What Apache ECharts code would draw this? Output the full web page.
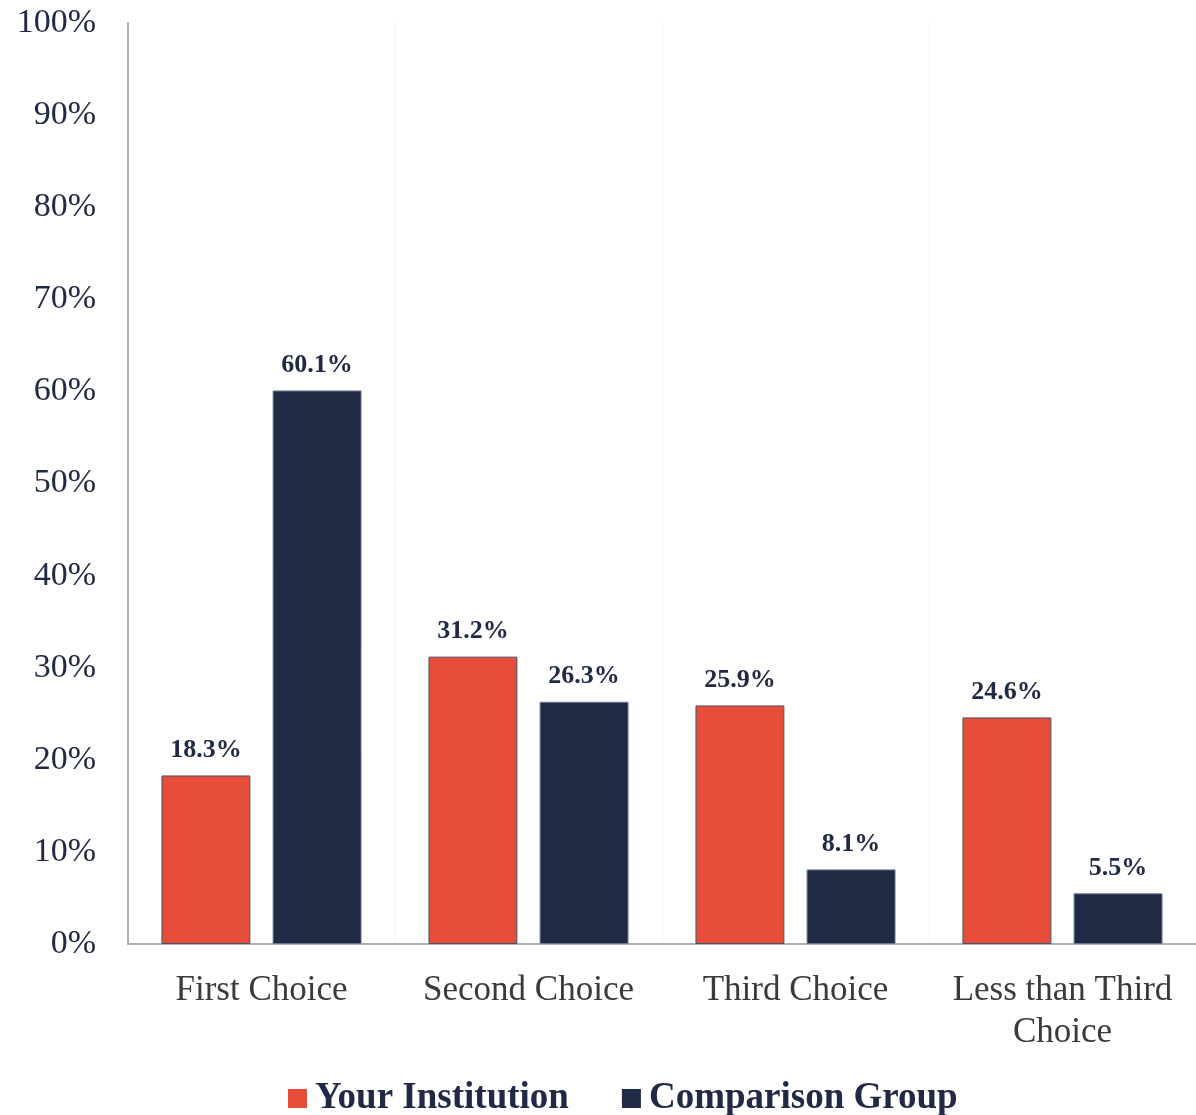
<!DOCTYPE html>
<html><head><meta charset="utf-8">
<script src="https://cdn.jsdelivr.net/npm/echarts@6/dist/echarts.min.js"></script>
<style>html,body{margin:0;padding:0;background:#fff}#c{width:1196px;height:1115px}</style>
</head><body><div id="c"></div>
<script>
const categories = ['First Choice', 'Second Choice', 'Third Choice', 'Less than Third\nChoice'];
const yourInstitution = [18.3, 31.2, 25.9, 24.6];
const comparisonGroup = [60.1, 26.3, 8.1, 5.5];
const seriesNames = ['Your Institution', 'Comparison Group'];
const serif = '"Liberation Serif", "DejaVu Serif", serif';
const navy = '#212a45';
const red = '#e64e39';
const chart = echarts.init(document.getElementById('c'));
const labelCfg = {show: true, position: 'top', distance: 12, color: navy, fontFamily: serif, fontWeight: 'bold', fontSize: 26, formatter: p => p.value.toFixed(1) + '%'};
chart.setOption({
  animation: false,
  grid: {left: 128, right: 0, top: 23, bottom: 171},
  legend: {bottom: -7, left: 283, itemWidth: 19, itemHeight: 19, itemGap: 53,
    icon: 'rect',
    itemStyle: {borderWidth: 0},
    textStyle: {fontFamily: serif, fontWeight: 'bold', fontSize: 37, color: navy, padding: [0, 0, 0, 3]},
    data: seriesNames},
  xAxis: {type: 'category', data: categories,
    axisLine: {lineStyle: {color: '#b0b0b0', width: 2}}, axisTick: {show: false},
    splitLine: {show: true, lineStyle: {color: '#f2f2f2', width: 1}},
    axisLabel: {fontFamily: serif, fontSize: 35, color: '#3a3a3a', margin: 26, lineHeight: 42, interval: 0}},
  yAxis: {type: 'value', min: 0, max: 100, interval: 10,
    axisLine: {show: true, lineStyle: {color: '#b0b0b0', width: 2}}, axisTick: {show: false},
    splitLine: {show: false},
    axisLabel: {fontFamily: serif, fontSize: 34, color: navy, margin: 32, formatter: v => v + '%'}},
  series: [
    {name: seriesNames[0], type: 'bar', data: yourInstitution, barWidth: '33.3%', barGap: '25%',
      itemStyle: {color: red, borderColor: '#4a5068', borderWidth: 1}, label: labelCfg},
    {name: seriesNames[1], type: 'bar', data: comparisonGroup, barWidth: '33.3%',
      itemStyle: {color: navy, borderColor: '#6a7590', borderWidth: 1}, label: labelCfg}
  ]
});
</script></body></html>
